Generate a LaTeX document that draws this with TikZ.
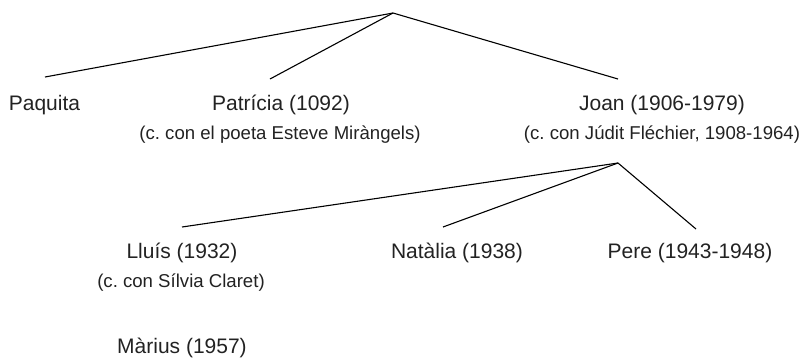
\documentclass[tikz,border=0pt]{standalone}
\usepackage{fontspec}
\setmainfont{Liberation Sans}
\definecolor{ink}{HTML}{222222}
\frenchspacing
\begin{document}
\begin{tikzpicture}[x=1pt,y=-1pt,
  person/.style={anchor=base,inner sep=0pt,text=ink,font=\fontsize{21}{25}\selectfont},
  note/.style={anchor=base,inner sep=0pt,text=ink,font=\fontsize{18.6}{22}\selectfont},
  link/.style={draw=black,line width=1.1pt}]
\useasboundingbox (0,0) rectangle (804,357);
% top tier
\coordinate (top) at (393,13);
\node[person] (paquita) at (44.5,110) {Paquita};
\node[person] (patricia) at (281,110) {Patrícia (1092)};
\node[note] (patnote) at (280,139) {(c.\ con el poeta Esteve Miràngels)};
\node[person] (joan) at (662,110) {Joan (1906-1979)};
\node[note] (joannote) at (662,139) {(c.\ con Júdit Fléchier, 1908-1964)};
\coordinate (paqend) at (45,77);
\coordinate (patend) at (270,79);
\coordinate (joanend) at (618,79);
\draw[link] (top) -- (paqend);
\draw[link] (top) -- (patend);
\draw[link] (top) -- (joanend);
% second tier
\coordinate (joanjoin) at (618,163);
\node[person] (lluis) at (182,258) {Lluís (1932)};
\node[note] (lluisnote) at (181,287) {(c.\ con Sílvia Claret)};
\node[person] (natalia) at (457,258) {Natàlia (1938)};
\node[person] (pere) at (690,258) {Pere (1943-1948)};
\node[person] (marius) at (182,353) {Màrius (1957)};
\coordinate (lluisend) at (182,227);
\coordinate (natend) at (443,227);
\coordinate (pereend) at (696,229);
\draw[link] (joanjoin) -- (lluisend);
\draw[link] (joanjoin) -- (natend);
\draw[link] (joanjoin) -- (pereend);
\end{tikzpicture}
\end{document}
